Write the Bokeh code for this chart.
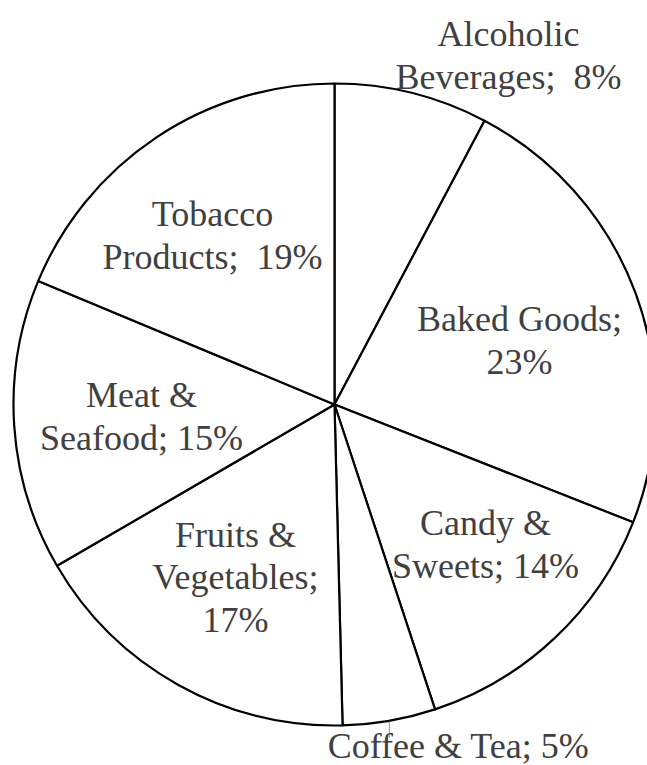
import numpy as np
from bokeh.plotting import figure
from bokeh.models import ColumnDataSource, Range1d
from bokeh.core.properties import value
from bokeh.embed import file_html
from bokeh.resources import INLINE

# ---- data ----
categories = ["Alcoholic Beverages", "Baked Goods", "Candy & Sweets", "Coffee & Tea",
              "Fruits & Vegetables", "Meat & Seafood", "Tobacco Products"]
shares = [7.74, 23.24, 13.95, 4.67, 17.02, 14.67, 18.71]
percent_labels = ["8%", "23%", "14%", "5%", "17%", "15%", "19%"]
label_text = [
    "Alcoholic\nBeverages;\u00a0 8%",
    "Baked Goods;\n23%",
    "Candy &\nSweets; 14%",
    "Coffee & Tea; 5%",
    "Fruits &\nVegetables;\n17%",
    "Meat &\nSeafood; 15%",
    "Tobacco\nProducts;\u00a0 19%",
]

# ---- layout / style ----
R = 321.0
label_dx = [174, 185, 151, 124, -99, -193, -122]
label_dy = [349, 64, -140, -341, -173, -12, 169]

W, H = 647, 765
cx_px, cy_px = 334, 404  # pie centre in plot pixels

frac = np.array(shares) / np.sum(shares)
cum = np.concatenate([[0.0], np.cumsum(frac)])
start = np.pi / 2 - 2 * np.pi * cum[:-1]
end = np.pi / 2 - 2 * np.pi * cum[1:]

p = figure(width=W, height=H, output_backend="svg", toolbar_location=None,
           x_range=Range1d(-cx_px, W - cx_px), y_range=Range1d(cy_px - H, cy_px),
           min_border=0)
p.axis.visible = False
p.grid.visible = False
p.outline_line_color = None
p.background_fill_color = "white"

src = ColumnDataSource(dict(x=[0] * len(shares), y=[0] * len(shares),
                            start=start, end=end, cat=categories))
p.wedge(x="x", y="y", radius=R, radius_units="data", start_angle="start",
        end_angle="end", direction="clock", source=src,
        fill_color="white", line_color="black", line_width=2.2)

# leader line for the small Coffee & Tea slice
i = categories.index("Coffee & Tea")
mid = 2 * np.pi * (cum[i] + cum[i + 1]) / 2
lx = R * np.sin(mid)
ly = R * np.cos(mid)
p.segment(x0=[lx], y0=[ly - 1], x1=[lx], y1=[ly - 17], line_color="#a6a6a6", line_width=1.2)

lsrc = ColumnDataSource(dict(x=label_dx, y=label_dy, t=label_text))
p.text(x="x", y="y", text="t", source=lsrc, text_align="center", text_baseline="middle",
       text_font=value("Liberation Serif"), text_font_size="36px",
       text_color="#404040", text_line_height=1.07)

open("out.html", "w").write(file_html(p, INLINE))
